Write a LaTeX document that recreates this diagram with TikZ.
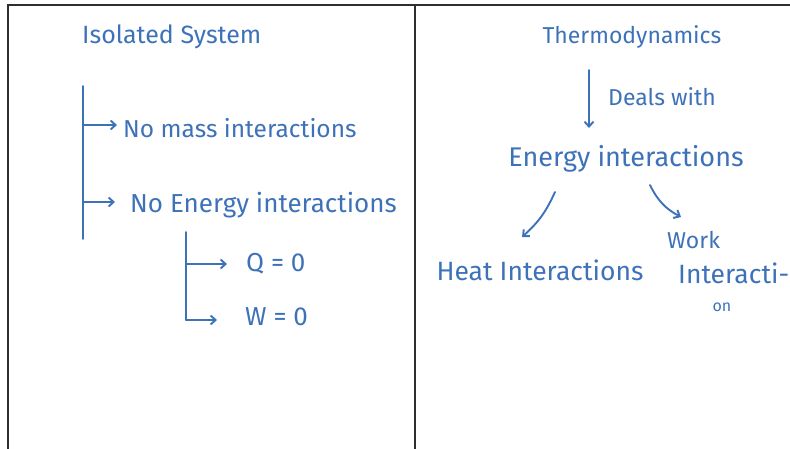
\documentclass[tikz,border=0pt]{standalone}
\usepackage{fontspec}
\setmainfont{Fira Sans}
\usetikzlibrary{arrows.meta}
\definecolor{ink}{RGB}{62,114,184}
\definecolor{board}{RGB}{45,45,50}

\begin{document}
\begin{tikzpicture}[x=1pt,y=-1pt,
  hand/.style={ink,font=\fontsize{26}{30}\selectfont,inner sep=3pt},
  hsize/.style={font=\fontsize{#1}{#1}\selectfont},
  small/.style={ink,font=\fontsize{16}{18}\selectfont,inner sep=1pt},
  pen/.style={ink,line width=1.9pt,line cap=round,-{Straight Barb[length=5pt,width=9pt]}},
  trunk/.style={ink,line width=1.9pt,line cap=round}]
  \useasboundingbox (0,0) rectangle (790,449);
  % frame and divider
  \draw[board,line width=2pt] (8,449) -- (8,5) -- (790,5);
  \draw[board,line width=2pt] (415,5) -- (415,449);
  % left: isolated system
  \node[hand,hsize=25,anchor=west] (iso) at (79,37) {Isolated System};
  \coordinate (top) at (83,86);
  \coordinate (bot) at (83,239);
  \draw[trunk] (top) -- (bot);
  \coordinate (b1) at (83,125);
  \coordinate (b2) at (83,202);
  \node[hand,hsize=24.5,anchor=west] (nomass) at (120,128) {No mass interactions};
  \node[hand,anchor=west] (noenergy) at (127,205) {No Energy interactions};
  \draw[pen,shorten >=3pt] (b1) -- (b1 -| nomass.west);
  \draw[pen,shorten >=12pt] (b2) -- (b2 -| noenergy.west);
  % heat and work
  \coordinate (stop) at (186,232);
  \coordinate (sbot) at (186,320);
  \coordinate (s1) at (186,264);
  \node[hand,anchor=west] (q) at (243,264) {Q = 0};
  \node[hand,anchor=west] (w) at (242,317) {W = 0};
  \draw[trunk] (stop) -- (sbot);
  \draw[pen,shorten >=16pt] (s1) -- (s1 -| q.west);
  \draw[pen,shorten >=25pt] (sbot) -- (sbot -| w.west);
  % right: thermodynamics
  \node[hand,hsize=23] (thermo) at (632,37) {Thermodynamics};
  \node[hand,hsize=23,anchor=west] (deals) at (605,97) {Deals with};
  \node[hand,hsize=27] (energy) at (626,159) {Energy interactions};
  \coordinate (d1) at (589,70);
  \coordinate (d2) at (589,128);
  \draw[pen] (d1) -- (d2);
  \node[hand,hsize=26.5] (heat) at (540,270) {Heat Interactions};
  \node[hand,hsize=23,anchor=west] (work) at (664,240) {Work};
  \node[hand,hsize=26.5,anchor=west] (workb) at (675,273) {Interacti-};
  \node[small] (on) at (722,307) {on};
  \coordinate (l1) at (555,192);
  \coordinate (l2) at (522,237);
  \coordinate (r1) at (650,185);
  \coordinate (r2) at (681,217);
  \draw[pen] (l1) to[bend left=12] (l2);
  \draw[pen] (r1) to[bend right=18] (r2);
\end{tikzpicture}
\end{document}
